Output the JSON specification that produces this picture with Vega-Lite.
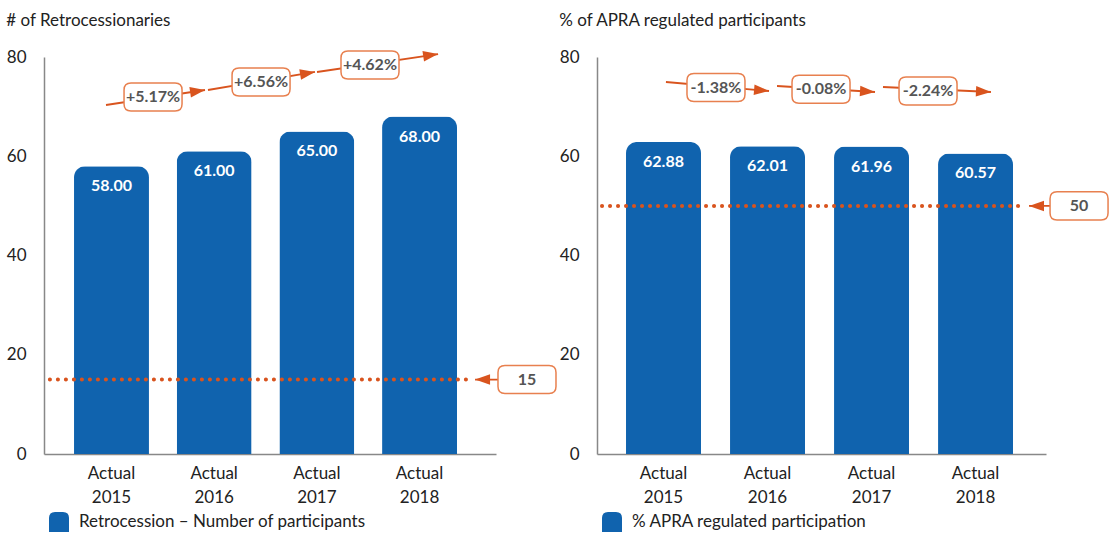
{
  "$schema": "https://vega.github.io/schema/vega-lite/v6.json",
  "background": "white",
  "padding": {"left": 6, "top": 11, "right": 0, "bottom": 0},
  "spacing": 0,
  "config": {
    "view": {"stroke": null},
    "font": "Lato",
    "axis": {"grid": false}
  },
  "resolve": {"scale": {"color": "independent"}, "legend": {"color": "independent"}},
  "hconcat": [
    {
      "width": 514,
      "height": 397,
      "title": {"text": "# of Retrocessionaries", "anchor": "start", "frame": "bounds", "fontSize": 17, "fontWeight": "normal", "color": "#222", "offset": 18},
      "layer": [
        {
          "data": {"values": [
            {"period": "Actual 2015", "value": 58, "series": "Retrocession – Number of participants"},
            {"period": "Actual 2016", "value": 61, "series": "Retrocession – Number of participants"},
            {"period": "Actual 2017", "value": 65, "series": "Retrocession – Number of participants"},
            {"period": "Actual 2018", "value": 68, "series": "Retrocession – Number of participants"}
          ]},
          "encoding": {
            "x": {"field": "period", "type": "nominal", "sort": null,
              "scale": {"range": [0, 452], "paddingInner": 0.27, "paddingOuter": 0.336, "align": 0.435},
              "axis": {"title": null, "labelExpr": "split(datum.label, ' ')", "labelAngle": 0, "ticks": false, "labelPadding": 11, "labelFontSize": 17, "labelColor": "#222", "labelLineHeight": 24, "domainColor": "#888", "domainWidth": 1.5}},
            "y": {"field": "value", "type": "quantitative",
              "scale": {"domain": [0, 80], "nice": false},
              "axis": {"title": null, "values": [0, 20, 40, 60, 80], "ticks": false, "labelPadding": 18, "labelFontSize": 17, "labelColor": "#222", "domainColor": "#888", "domainWidth": 1.5}}
          },
          "layer": [
            {
              "mark": {"type": "bar", "cornerRadiusTopLeft": 11, "cornerRadiusTopRight": 11},
              "encoding": {
                "color": {"field": "series", "type": "nominal",
                  "scale": {"range": ["#1063AE"]},
                  "legend": {"title": null, "orient": "bottom", "symbolType": "M-1,1 L-1,-0.4 Q-1,-1 -0.4,-1 L0.4,-1 Q1,-1 1,-0.4 L1,1 Z", "symbolSize": 400, "symbolStrokeWidth": 0, "labelFontSize": 17, "labelColor": "#222", "labelOffset": 10, "labelLimit": 500, "offset": 2, "padding": 5}}
              }
            },
            {
              "mark": {"type": "text", "color": "white", "fontWeight": "bold", "fontSize": 16, "baseline": "middle", "dy": 20},
              "encoding": {"text": {"field": "value", "type": "quantitative", "format": ".2f"}}
            }
          ]
        },
        {
          "data": {"values": [
            {"x": 2014.947, "y": 70.33, "x2": 2015.911, "y2": 73.35, "angle": -8.6, "bx": 2015.405, "by": 71.94, "label": "+5.17%"},
            {"x": 2015.940, "y": 73.35, "x2": 2016.982, "y2": 76.98, "angle": -9.5, "bx": 2016.457, "by": 74.96, "label": "+6.56%"},
            {"x": 2017.002, "y": 76.98, "x2": 2018.181, "y2": 80.60, "angle": -8.5, "bx": 2017.518, "by": 78.39, "label": "+4.62%"},
            {"x": 2019.047, "y": 15, "x2": 2018.541, "y2": 15, "angle": 180, "bx": 2019.047, "by": 15, "label": "15"}
          ]},
          "layer": [
            {
              "data": {"values": [{"start": 2014.40, "end": 2018.49, "value": 15}]},
              "mark": {"type": "rule", "color": "#D9541E", "strokeWidth": 4, "strokeDash": [0.1, 7.9], "strokeCap": "round"},
              "encoding": {
                "x": {"field": "start", "type": "quantitative", "scale": {"domain": [2014.343, 2019.349], "nice": false, "zero": false}, "axis": null},
                "x2": {"field": "end"},
                "y": {"field": "value", "type": "quantitative"}
              }
            },
            {
              "mark": {"type": "rule", "color": "#D9541E", "strokeWidth": 1.8},
              "encoding": {
                "x": {"field": "x", "type": "quantitative", "scale": {"domain": [2014.343, 2019.349], "nice": false, "zero": false}, "axis": null},
                "x2": {"field": "x2"},
                "y": {"field": "y", "type": "quantitative"},
                "y2": {"field": "y2"}
              }
            },
            {
              "mark": {"type": "point", "filled": true, "color": "#D9541E", "opacity": 1, "shape": "M0,0 L-2,-0.7 L-2,0.7 Z", "size": 225},
              "encoding": {
                "x": {"field": "x2", "type": "quantitative", "scale": {"domain": [2014.343, 2019.349], "nice": false, "zero": false}, "axis": null},
                "y": {"field": "y2", "type": "quantitative"},
                "angle": {"field": "angle", "type": "quantitative", "scale": null}
              }
            },
            {
              "mark": {"type": "point", "filled": false, "fill": "white", "fillOpacity": 1, "stroke": "#E8804F", "strokeWidth": 1.5, "opacity": 1, "shape": "M-0.76,-0.483 L0.76,-0.483 Q1,-0.483 1,-0.243 L1,0.243 Q1,0.483 0.76,0.483 L-0.76,0.483 Q-1,0.483 -1,0.243 L-1,-0.243 Q-1,-0.483 -0.76,-0.483 Z", "size": 3364},
              "encoding": {
                "x": {"field": "bx", "type": "quantitative", "scale": {"domain": [2014.343, 2019.349], "nice": false, "zero": false}, "axis": null},
                "y": {"field": "by", "type": "quantitative"}
              }
            },
            {
              "mark": {"type": "text", "color": "#555", "fontWeight": "bold", "fontSize": 16, "baseline": "middle"},
              "encoding": {
                "x": {"field": "bx", "type": "quantitative", "scale": {"domain": [2014.343, 2019.349], "nice": false, "zero": false}, "axis": null},
                "y": {"field": "by", "type": "quantitative"},
                "text": {"field": "label"}
              }
            }
          ]
        }
      ],
      "resolve": {"scale": {"x": "independent"}, "axis": {"x": "independent"}}
    },
    {
      "width": 512,
      "height": 397,
      "title": {"text": "% of APRA regulated participants", "anchor": "start", "frame": "bounds", "fontSize": 17, "fontWeight": "normal", "color": "#222", "offset": 18},
      "layer": [
        {
          "data": {"values": [
            {"period": "Actual 2015", "value": 62.88, "series": "% APRA regulated participation"},
            {"period": "Actual 2016", "value": 62.01, "series": "% APRA regulated participation"},
            {"period": "Actual 2017", "value": 61.96, "series": "% APRA regulated participation"},
            {"period": "Actual 2018", "value": 60.57, "series": "% APRA regulated participation"}
          ]},
          "encoding": {
            "x": {"field": "period", "type": "nominal", "sort": null,
              "scale": {"range": [0, 449], "paddingInner": 0.279, "paddingOuter": 0.298, "align": 0.468},
              "axis": {"title": null, "labelExpr": "split(datum.label, ' ')", "labelAngle": 0, "ticks": false, "labelPadding": 11, "labelFontSize": 17, "labelColor": "#222", "labelLineHeight": 24, "domainColor": "#888", "domainWidth": 1.5}},
            "y": {"field": "value", "type": "quantitative",
              "scale": {"domain": [0, 80], "nice": false},
              "axis": {"title": null, "values": [0, 20, 40, 60, 80], "ticks": false, "labelPadding": 18, "labelFontSize": 17, "labelColor": "#222", "domainColor": "#888", "domainWidth": 1.5}}
          },
          "layer": [
            {
              "mark": {"type": "bar", "cornerRadiusTopLeft": 11, "cornerRadiusTopRight": 11},
              "encoding": {
                "color": {"field": "series", "type": "nominal",
                  "scale": {"range": ["#1063AE"]},
                  "legend": {"title": null, "orient": "bottom", "symbolType": "M-1,1 L-1,-0.4 Q-1,-1 -0.4,-1 L0.4,-1 Q1,-1 1,-0.4 L1,1 Z", "symbolSize": 400, "symbolStrokeWidth": 0, "labelFontSize": 17, "labelColor": "#222", "labelOffset": 10, "labelLimit": 500, "offset": 2, "padding": 5}}
              }
            },
            {
              "mark": {"type": "text", "color": "white", "fontWeight": "bold", "fontSize": 16, "baseline": "middle", "dy": 20},
              "encoding": {"text": {"field": "value", "type": "quantitative", "format": ".2f"}}
            }
          ]
        },
        {
          "data": {"values": [
            {"x": 2015.024, "y": 74.96, "x2": 2016.015, "y2": 73.15, "angle": 5.0, "bx": 2015.505, "by": 73.85, "label": "-1.38%"},
            {"x": 2016.092, "y": 74.16, "x2": 2017.034, "y2": 72.95, "angle": 3.5, "bx": 2016.515, "by": 73.50, "label": "-0.08%"},
            {"x": 2017.111, "y": 73.95, "x2": 2018.149, "y2": 72.95, "angle": 2.7, "bx": 2017.544, "by": 73.15, "label": "-2.24%"},
            {"x": 2018.996, "y": 50, "x2": 2018.515, "y2": 50, "angle": 180, "bx": 2018.996, "by": 50, "label": "50"}
          ]},
          "layer": [
            {
              "data": {"values": [{"start": 2014.409, "end": 2018.467, "value": 50}]},
              "mark": {"type": "rule", "color": "#D9541E", "strokeWidth": 4, "strokeDash": [0.1, 7.9], "strokeCap": "round"},
              "encoding": {
                "x": {"field": "start", "type": "quantitative", "scale": {"domain": [2014.361, 2019.284], "nice": false, "zero": false}, "axis": null},
                "x2": {"field": "end"},
                "y": {"field": "value", "type": "quantitative"}
              }
            },
            {
              "mark": {"type": "rule", "color": "#D9541E", "strokeWidth": 1.8},
              "encoding": {
                "x": {"field": "x", "type": "quantitative", "scale": {"domain": [2014.361, 2019.284], "nice": false, "zero": false}, "axis": null},
                "x2": {"field": "x2"},
                "y": {"field": "y", "type": "quantitative"},
                "y2": {"field": "y2"}
              }
            },
            {
              "mark": {"type": "point", "filled": true, "color": "#D9541E", "opacity": 1, "shape": "M0,0 L-2,-0.7 L-2,0.7 Z", "size": 225},
              "encoding": {
                "x": {"field": "x2", "type": "quantitative", "scale": {"domain": [2014.361, 2019.284], "nice": false, "zero": false}, "axis": null},
                "y": {"field": "y2", "type": "quantitative"},
                "angle": {"field": "angle", "type": "quantitative", "scale": null}
              }
            },
            {
              "mark": {"type": "point", "filled": false, "fill": "white", "fillOpacity": 1, "stroke": "#E8804F", "strokeWidth": 1.5, "opacity": 1, "shape": "M-0.76,-0.483 L0.76,-0.483 Q1,-0.483 1,-0.243 L1,0.243 Q1,0.483 0.76,0.483 L-0.76,0.483 Q-1,0.483 -1,0.243 L-1,-0.243 Q-1,-0.483 -0.76,-0.483 Z", "size": 3364},
              "encoding": {
                "x": {"field": "bx", "type": "quantitative", "scale": {"domain": [2014.361, 2019.284], "nice": false, "zero": false}, "axis": null},
                "y": {"field": "by", "type": "quantitative"}
              }
            },
            {
              "mark": {"type": "text", "color": "#555", "fontWeight": "bold", "fontSize": 16, "baseline": "middle"},
              "encoding": {
                "x": {"field": "bx", "type": "quantitative", "scale": {"domain": [2014.361, 2019.284], "nice": false, "zero": false}, "axis": null},
                "y": {"field": "by", "type": "quantitative"},
                "text": {"field": "label"}
              }
            }
          ]
        }
      ],
      "resolve": {"scale": {"x": "independent"}, "axis": {"x": "independent"}}
    }
  ]
}
